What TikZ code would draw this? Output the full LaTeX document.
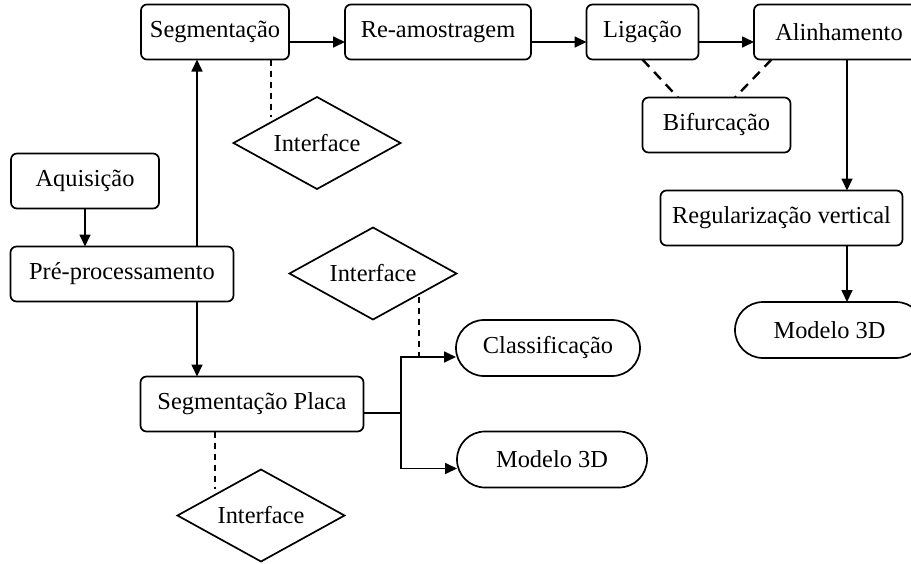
\documentclass[tikz,border=0pt]{standalone}
\usepackage{fontspec}
\setmainfont{Liberation Serif}
\usetikzlibrary{arrows.meta,shapes.geometric,shapes.misc}
\begin{document}
\begin{tikzpicture}[x=0.5pt,y=-0.5pt,
  line width=0.85pt,
  every node/.style={font=\fontsize{12.2pt}{14pt}\selectfont, inner sep=0pt, outer sep=0pt},
  box/.style={draw, rounded corners=3pt, minimum height=27.5pt},
  term/.style={draw, rounded rectangle, minimum height=28pt},
  iface/.style={draw, diamond, aspect=1.8, minimum width=83.5pt, minimum height=46pt},
  arr/.style={-{Triangle[length=6pt,width=5.5pt]}},
  dsh/.style={dash pattern=on 3pt off 2.5pt},
  dshb/.style={line width=1.2pt, dash pattern=on 5pt off 3.5pt}]
\path[use as bounding box] (0,0) rectangle (911,563);
% nodes
\node[box, minimum width=74pt]    (seg)  at (215,32)    {Segmentação};
\node[box, minimum width=93pt]    (res)  at (438,32)    {Re-amostragem};
\node[box, minimum width=56pt]    (lig)  at (642.5,32)  {Ligação};
\node[box, minimum width=85pt]    (ali)  at (839,32)    {Alinhamento};
\node[box, minimum width=74pt]    (bif)  at (716.5,125) {Bifurcação};
\node[box, minimum width=121pt]   (reg)  at (781.5,218) {Regularização vertical};
\node[term, minimum width=94.5pt] (modr) at (829.5,330) {Modelo 3D};
\node[box, minimum width=74pt]    (aq)   at (85,181)    {Aquisição};
\node[box, minimum width=111.5pt] (pre)  at (122,274)   {Pré-processamento};
\node[box, minimum width=111.5pt] (sp)   at (252,404)   {Segmentação Placa};
\node[term, minimum width=92pt]   (cla)  at (548,348)   {Classificação};
\node[term, minimum width=95pt]   (modb) at (552,459.5) {Modelo 3D};
\node[iface] (if1) at (317,143)   {Interface};
\node[iface] (if2) at (373,273.5) {Interface};
\node[iface] (if3) at (261,515.5) {Interface};
% helper coordinates
\coordinate (row) at (0,42);
\coordinate (xr) at (847,0);
\coordinate (xl) at (197,0);
\coordinate (br) at (401,413);
\coordinate (ya) at (0,357);
\coordinate (yb) at (0,468.5);
\coordinate (d1) at (271,117);
\coordinate (d2) at (419,297);
\coordinate (d3) at (215,489);
\coordinate (d4) at (678,0);
\coordinate (d5) at (771.5,0);
\coordinate (d6) at (735,0);
% connectors
\draw[arr] (seg.east |- row) -- (res.west |- row);
\draw[arr] (res.east |- row) -- (lig.west |- row);
\draw[arr] (lig.east |- row) -- (ali.west |- row);
\draw[arr] (ali.south -| xr) -- (reg.north -| xr);
\draw[arr] (reg.south -| xr) -- (modr.north -| xr);
\draw[arr] (aq.south) -- (aq.south |- pre.north);
\draw[arr] (pre.north -| xl) -- (seg.south -| xl);
\draw[arr] (pre.south -| xl) -- (sp.north -| xl);
\draw (sp.east |- br) -- (br);
\draw[arr] (br) |- (cla.west |- ya);
\draw[arr] (br) |- (modb.west |- yb);
% dashed links
\draw[dsh] (seg.south -| d1) -- (d1);
\draw[dsh] (d2) -- (d2 |- ya);
\draw[dsh] (sp.south -| d3) -- (d3);
\draw[dshb] (lig.south) -- (bif.north -| d4);
\draw[dshb] (ali.south -| d5) -- (bif.north -| d6);
\end{tikzpicture}
\end{document}
